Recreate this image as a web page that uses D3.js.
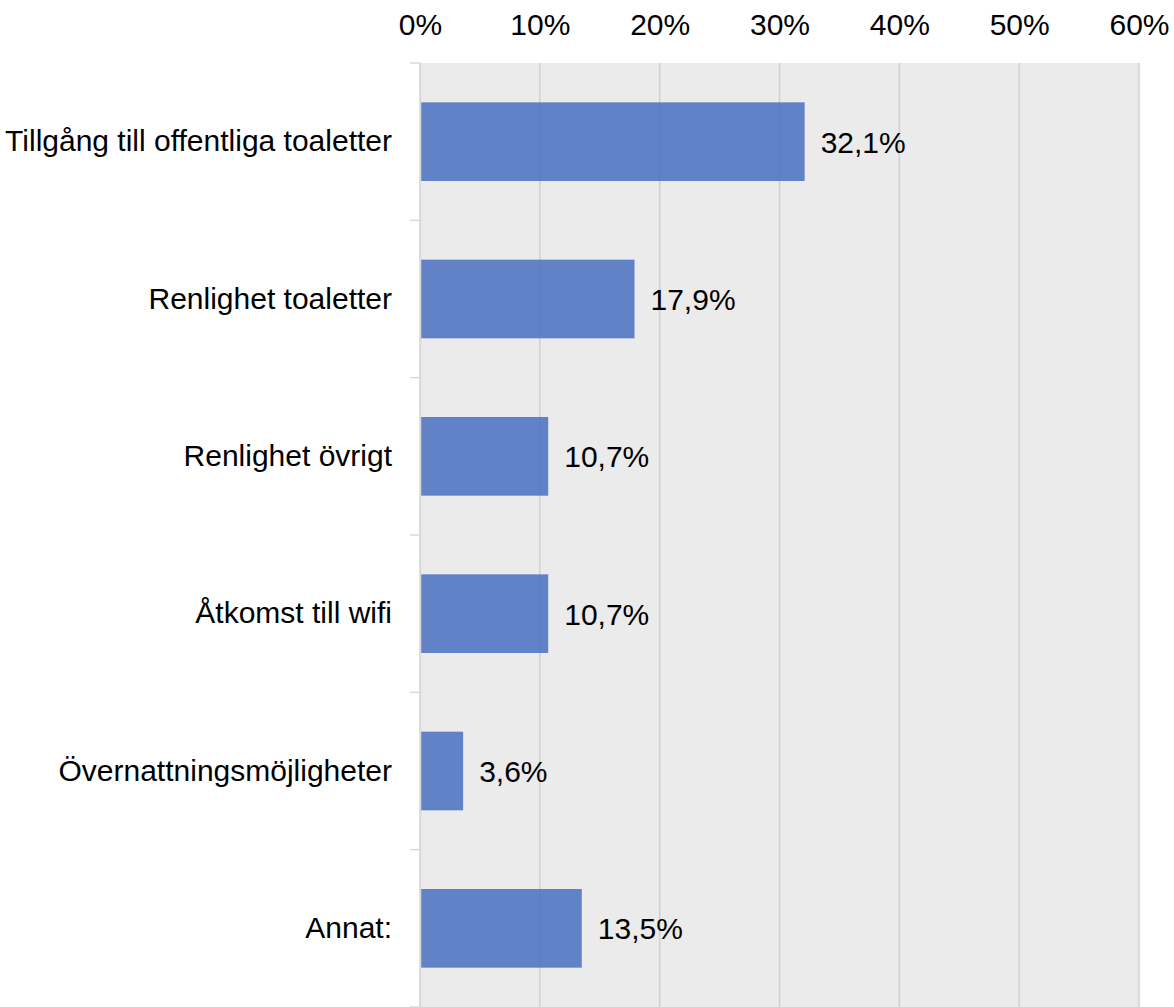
<!DOCTYPE html>
<html lang="sv">
  <head>
    <meta charset="UTF-8" />
    <title>Stapeldiagram</title>
    <script src="https://d3js.org/d3.v7.min.js"></script>
    <style>
      body {
        margin: 0;
        background: #fff;
      }
      svg text {
        font-family: "Liberation Sans", Arial, sans-serif;
        font-size: 30px;
        fill: #000;
      }
    </style>
  </head>
  <body>
    <svg width="1174" height="1007"></svg>

    <script>
      const categories = [
        "Tillgång till offentliga toaletter",
        "Renlighet toaletter",
        "Renlighet övrigt",
        "Åtkomst till wifi",
        "Övernattningsmöjligheter",
        "Annat:",
      ];
      const values = [32.1, 17.9, 10.7, 10.7, 3.6, 13.5];
      const tickValues = [0, 10, 20, 30, 40, 50, 60];

      const data = categories.map((c, i) => ({ category: c, value: values[i] }));

      const svg = d3.select("svg");
      const margin = { top: 63, right: 35, bottom: 0, left: 420 };
      const width = +svg.attr("width") - margin.left - margin.right;
      const height = +svg.attr("height") - margin.top - margin.bottom;

      const x = d3.scaleLinear().domain([0, 60]).range([0, width]);
      const y = d3
        .scaleBand()
        .domain(categories)
        .range([0, height])
        .paddingInner(0.5)
        .paddingOuter(0.25);

      const g = svg
        .append("g")
        .attr("transform", `translate(${margin.left},${margin.top})`);

      // bakgrund
      g.append("rect")
        .attr("width", width)
        .attr("height", height)
        .attr("fill", "#ebebeb");

      // stödlinjer
      g.append("g")
        .selectAll("line")
        .data(tickValues)
        .enter()
        .append("line")
        .attr("x1", (d) => x(d))
        .attr("x2", (d) => x(d))
        .attr("y1", 0)
        .attr("y2", height)
        .attr("stroke", "#d0d0d0")
        .attr("stroke-width", 1.5);

      // tick-markeringar på kategoriaxeln (gränser mellan kategorier)
      const step = y.step();
      g.append("g")
        .selectAll("line")
        .data(d3.range(categories.length + 1))
        .enter()
        .append("line")
        .attr("x1", -10)
        .attr("x2", 0)
        .attr("y1", (d) => d * step)
        .attr("y2", (d) => d * step)
        .attr("stroke", "#d9d9d9")
        .attr("stroke-width", 1.5);

      // staplar
      g.append("g")
        .selectAll("rect")
        .data(data)
        .enter()
        .append("rect")
        .attr("x", x(0))
        .attr("y", (d) => y(d.category))
        .attr("width", (d) => x(d.value) - x(0))
        .attr("height", y.bandwidth())
        .attr("fill", "#4a70c2")
        .attr("fill-opacity", 0.85);

      // värdeetiketter
      g.append("g")
        .selectAll("text")
        .data(data)
        .enter()
        .append("text")
        .attr("x", (d) => x(d.value) + 16)
        .attr("y", (d) => y(d.category) + y.bandwidth() / 2)
        .attr("dy", "0.37em")
        .text((d) => d.value.toFixed(1).replace(".", ",") + "%");

      // x-axel överst
      const xAxis = g
        .append("g")
        .call(
          d3
            .axisTop(x)
            .tickValues(tickValues)
            .tickSize(0)
            .tickPadding(28)
            .tickFormat((d) => d + "%")
        );
      xAxis.select(".domain").remove();
      xAxis.selectAll("text").attr("fill", "#000").style("font-size", "30px");

      // y-axel
      const yAxis = g
        .append("g")
        .call(d3.axisLeft(y).tickSize(0).tickPadding(28));
      yAxis.select(".domain").attr("stroke", "#d9d9d9").attr("stroke-width", 1.5);
      yAxis.selectAll("text").attr("fill", "#000").style("font-size", "30px");
    </script>
  </body>
</html>
